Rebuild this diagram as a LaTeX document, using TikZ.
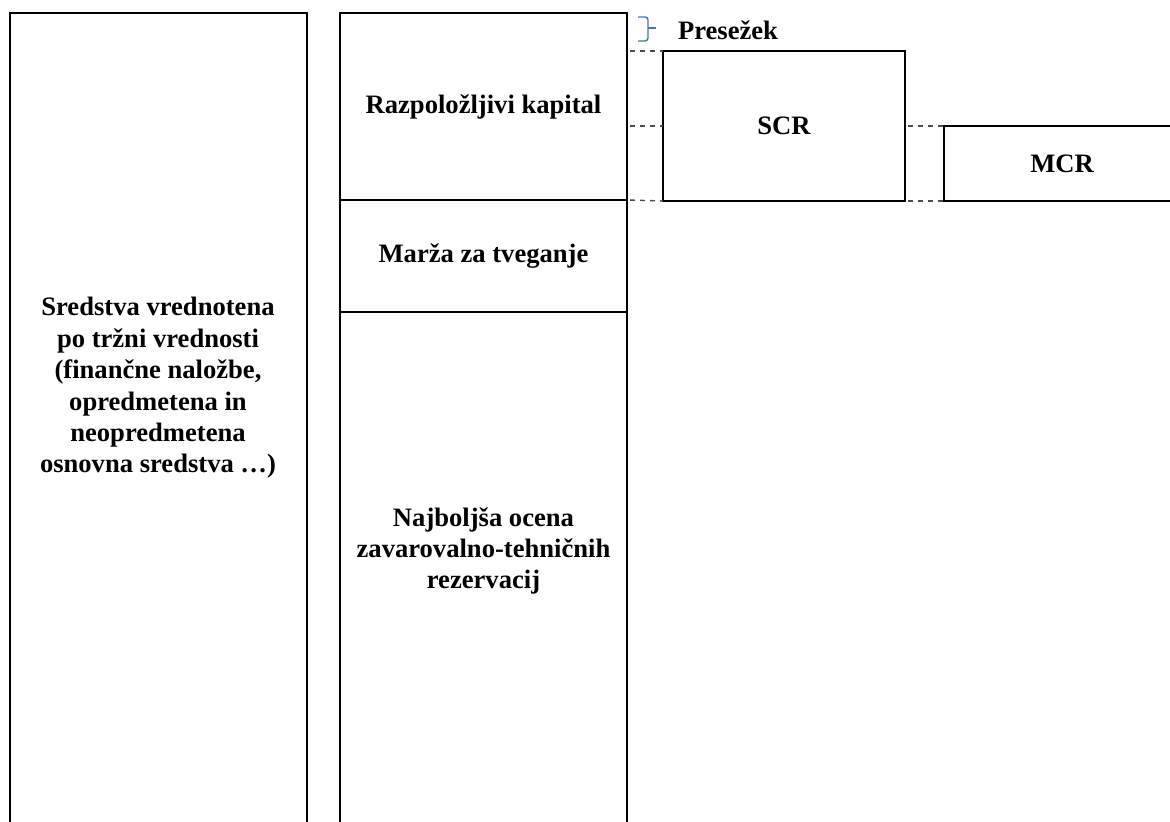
\documentclass[tikz,border=0pt]{standalone}
\usepackage{fontspec}
\setmainfont{Liberation Serif}
\usepackage{xcolor}
\usetikzlibrary{positioning, calc}
\definecolor{braceblue}{RGB}{68,114,196}
\tikzset{
  %% Open column outline
  col/.style={draw=black, line width=1.25pt},
  %% Balance block
  cbox/.style={
    rectangle, draw=black, line width=1.25pt,
    inner sep=0pt, outer sep=0pt
  },
  %% Dashed level line
  dlink/.style={draw=black!70, line width=0.7pt,
                dash pattern=on 2.5pt off 2.5pt, shorten <=1.5pt},
  %% Surplus brace
  sbrace/.style={draw=braceblue, line width=0.7pt, rounded corners=1.5pt},
}

\begin{document}
\begin{tikzpicture}[x=0.5pt, y=-0.5pt,
                    every node/.style={align=center,
                    font=\fontsize{13.3}{15.7}\selectfont\bfseries}]
  \useasboundingbox (0,0) rectangle (1170,822);

  %% Assets
  \draw[col] (10,822) -- (10,13) -- (307,13) -- (307,822);
  \node (as) at (158,388)
       {Sredstva vrednotena\\po tržni vrednosti\\(finančne naložbe,\\opredmetena in\\neopredmetena\\osnovna sredstva …)};

  %% Liabilities
  \node[cbox, minimum width=143.5pt, minimum height=93.5pt] (rk) at (483.5,106.5)
       {Razpoložljivi kapital};
  \node[cbox, minimum width=143.5pt, minimum height=56pt, below=0pt of rk] (mz)
       {Marža za tveganje};
  \draw[col] (mz.south west) -- (340,822);
  \draw[col] (mz.south east) -- (627,822);
  \node (nb) at (483.5,551)
       {Najboljša ocena\\zavarovalno-tehničnih\\rezervacij};

  %% Capital requirements
  \node[cbox, minimum width=121pt, minimum height=75pt] (scr) at (784,126) {SCR};
  \node[cbox, minimum width=118pt, minimum height=37.5pt] (mcr) at (1062,163.5) {MCR};

  %% Levels
  \draw[dlink] (rk.east |- scr.north west) -- (scr.north west);
  \draw[dlink] (rk.east |- scr.west) -- (scr.west);
  \draw[dlink] (rk.south east) -- (scr.south west);
  \draw[dlink] (scr.east) -- (mcr.north west);
  \draw[dlink] (scr.south east) -- (mcr.south west);

  %% Surplus
  \draw[sbrace] (638,17) -| (648,41) -- (638,41);
  \draw[sbrace] (648,28) -- (656,28);
  \node (pr) at (728,30) {Presežek};

\end{tikzpicture}
\end{document}
